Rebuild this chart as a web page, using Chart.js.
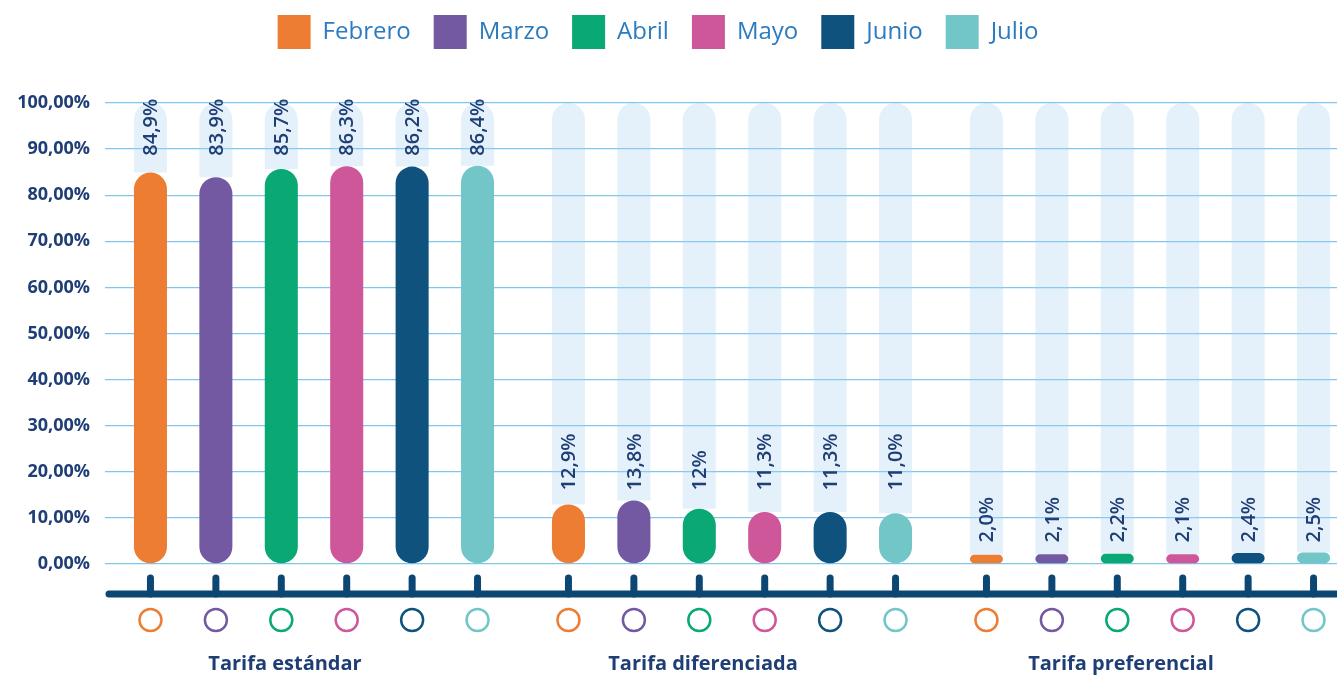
<!DOCTYPE html>
<html>
<head>
<meta charset="utf-8">
<script src="https://cdn.jsdelivr.net/npm/chart.js@4.4.1/dist/chart.umd.min.js"></script>
<style>
  html, body { margin: 0; padding: 0; background: #fff; }
  #wrap { width: 1337px; height: 675px; overflow: hidden; }
  canvas { display: block; }
</style>
</head>
<body>
<div id="wrap"><canvas id="tarifas-chart" width="1359" height="675"></canvas></div>
<script>
const categories = ['Tarifa estándar', 'Tarifa diferenciada', 'Tarifa preferencial'];
const months = ['Febrero', 'Marzo', 'Abril', 'Mayo', 'Junio', 'Julio'];
const monthColors = ['#ee7d34', '#7359a2', '#09a874', '#cd5799', '#0e527d', '#72c6c8'];

const febrero = [84.9, 12.9, 2.0];
const marzo = [83.9, 13.8, 2.1];
const abril = [85.7, 12.0, 2.2];
const mayo = [86.3, 11.3, 2.1];
const junio = [86.2, 11.3, 2.4];
const julio = [86.4, 11.0, 2.5];

const febreroLabels = ['84,9%', '12,9%', '2,0%'];
const marzoLabels = ['83,9%', '13,8%', '2,1%'];
const abrilLabels = ['85,7%', '12%', '2,2%'];
const mayoLabels = ['86,3%', '11,3%', '2,1%'];
const junioLabels = ['86,2%', '11,3%', '2,4%'];
const julioLabels = ['86,4%', '11,0%', '2,5%'];

const yTicks = [0, 10, 20, 30, 40, 50, 60, 70, 80, 90, 100];

const monthValues = [febrero, marzo, abril, mayo, junio, julio];
const monthLabels = [febreroLabels, marzoLabels, abrilLabels, mayoLabels, junioLabels, julioLabels];

const navy = '#1f3e76';
const axisNavy = '#0c4672';
const fontFamily = '"Open Sans", "DejaVu Sans", sans-serif';

// the real bars
const barSets = months.map((m, i) => ({
    label: m,
    data: monthValues[i],
    stack: m,
    order: 0,
    backgroundColor: monthColors[i],
    borderRadius: 17,
    borderSkipped: false
}));

// pale "track" above each bar, up to 100 %
const trackSets = months.map((m, i) => ({
    label: m + ' fondo',
    data: monthValues[i].map(v => [v, 100]),
    stack: m,
    order: 1,
    backgroundColor: 'rgba(172, 213, 241, 0.32)',
    borderRadius: { topLeft: 17, topRight: 17, bottomLeft: 0, bottomRight: 0 },
    borderSkipped: false
}));

// more room under the legend
const legendSpace = {
    id: 'legendSpace',
    beforeInit(chart) {
        const fit = chart.legend.fit;
        chart.legend.fit = function () {
            fit.bind(chart.legend)();
            this.height += 44;
        };
    }
};

const decorPlugin = {
    id: 'decor',
    afterDraw(chart) {
        const ctx = chart.ctx;
        const yScale = chart.scales.y;
        const area = chart.chartArea;

        // value labels, rotated, a little above the tallest bar of the group
        ctx.save();
        ctx.font = '600 20px ' + fontFamily;
        ctx.fillStyle = navy;
        ctx.textAlign = 'left';
        ctx.textBaseline = 'middle';
        for (let i = 0; i < months.length; i++) {
            const meta = chart.getDatasetMeta(i);
            meta.data.forEach((bar, j) => {
                const groupMax = Math.max(...monthValues.map(arr => arr[j]));
                const start = yScale.getPixelForValue(groupMax) - 10;
                ctx.save();
                ctx.translate(bar.x, start);
                ctx.rotate(-Math.PI / 2);
                ctx.fillText(monthLabels[i][j], 0, 1);
                ctx.restore();
            });
        }
        ctx.restore();

        // bottom axis bar with stubs and circles
        const lineY = area.bottom + 30;
        ctx.save();
        ctx.strokeStyle = axisNavy;
        ctx.lineCap = 'round';
        ctx.lineWidth = 7;
        ctx.beginPath();
        ctx.moveTo(area.left + 4, lineY);
        ctx.lineTo(chart.width + 20, lineY);
        ctx.stroke();

        for (let i = 0; i < months.length; i++) {
            chart.getDatasetMeta(i).data.forEach(bar => {
                ctx.beginPath();
                ctx.moveTo(bar.x, area.bottom + 14);
                ctx.lineTo(bar.x, lineY);
                ctx.stroke();
            });
        }
        ctx.lineWidth = 2.5;
        for (let i = 0; i < months.length; i++) {
            ctx.strokeStyle = monthColors[i];
            chart.getDatasetMeta(i).data.forEach(bar => {
                ctx.beginPath();
                ctx.arc(bar.x, area.bottom + 56, 11, 0, Math.PI * 2);
                ctx.stroke();
            });
        }
        ctx.restore();
    }
};

const chart = new Chart(document.getElementById('tarifas-chart').getContext('2d'), {
    type: 'bar',
    data: {
        labels: categories,
        datasets: barSets.concat(trackSets)
    },
    options: {
        responsive: false,
        animation: false,
        devicePixelRatio: 1,
        layout: {
            padding: { top: -8, right: 0, bottom: 0, left: -43 }
        },
        datasets: {
            bar: { categoryPercentage: 0.939, barPercentage: 0.505 }
        },
        plugins: {
            tooltip: { enabled: false },
            legend: {
                position: 'top',
                labels: {
                    boxWidth: 33,
                    boxHeight: 34,
                    padding: 23,
                    color: '#2b7bc0',
                    font: { family: fontFamily, size: 24 },
                    filter: item => item.datasetIndex < months.length
                }
            }
        },
        scales: {
            x: {
                afterFit(scale) { scale.height = 111; },
                grid: { display: false },
                border: { display: false },
                ticks: {
                    padding: 80,
                    labelOffset: -29,
                    color: navy,
                    font: { family: fontFamily, size: 20, weight: 'bold' }
                }
            },
            y: {
                stacked: false,
                min: 0,
                max: 100,
                afterFit(scale) { scale.width = 148; },
                afterBuildTicks(scale) { scale.ticks = yTicks.map(v => ({ value: v })); },
                grid: { color: '#7fc5ee', lineWidth: 1.3, drawTicks: false },
                border: { display: false },
                ticks: {
                    padding: 15,
                    color: navy,
                    font: { family: fontFamily, size: 18, weight: 'bold' },
                    callback: v => v.toFixed(2).replace('.', ',') + '%'
                }
            }
        }
    },
    plugins: [legendSpace, decorPlugin]
});
</script>
</body>
</html>
